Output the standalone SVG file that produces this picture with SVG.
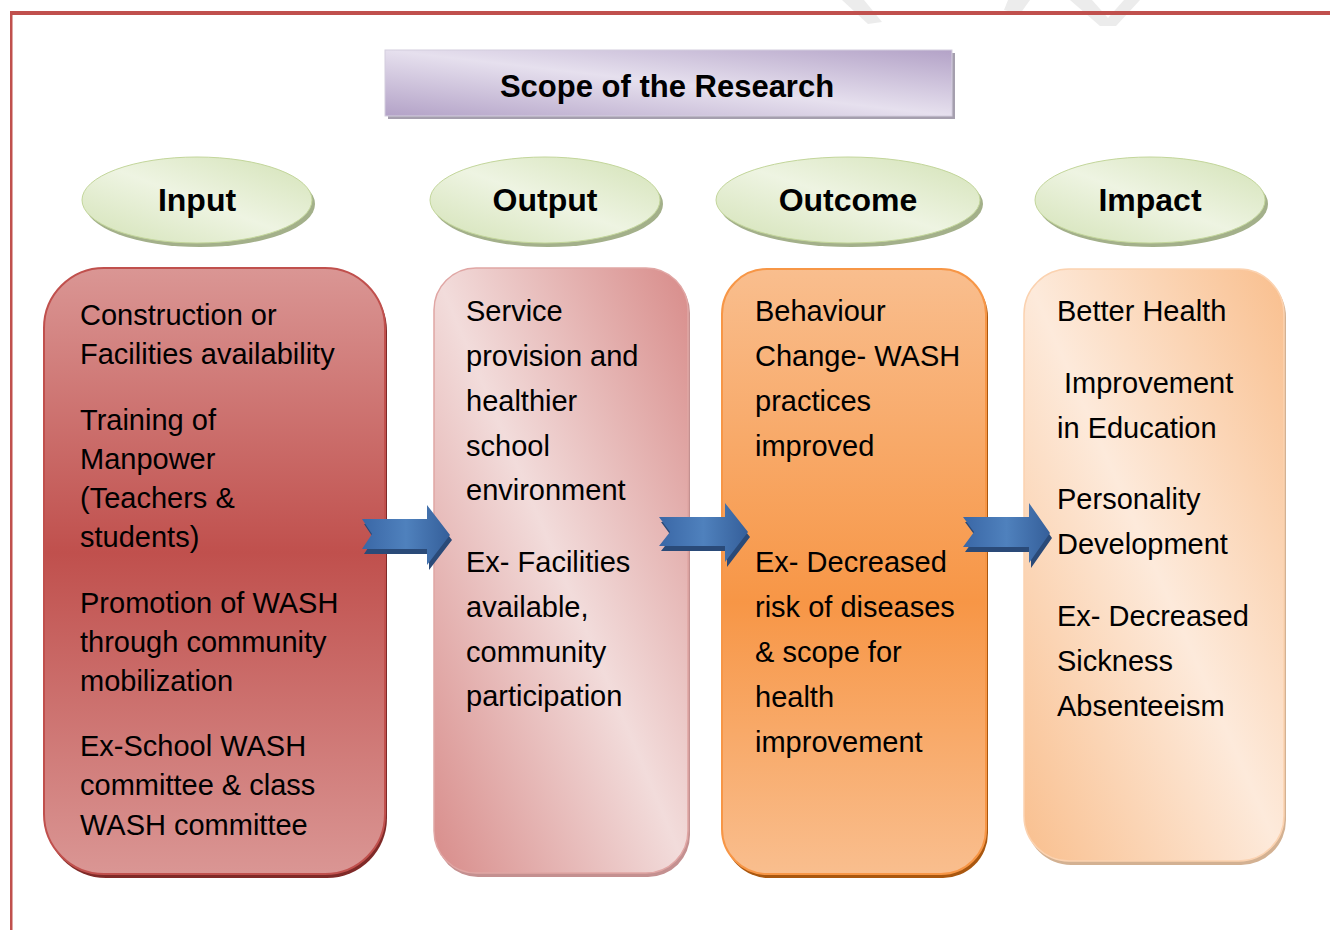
<svg xmlns="http://www.w3.org/2000/svg" width="1330" height="930" viewBox="0 0 1330 930">
  <defs>
    <linearGradient id="gTitle" x1="1" y1="0" x2="0" y2="1">
      <stop offset="0" stop-color="#b3a2c7"/>
      <stop offset="0.5" stop-color="#e6e0ee"/>
      <stop offset="1" stop-color="#b3a2c7"/>
    </linearGradient>
    <linearGradient id="gEll" x1="1" y1="0" x2="0" y2="1">
      <stop offset="0" stop-color="#d3e2b6"/>
      <stop offset="0.5" stop-color="#eef4e2"/>
      <stop offset="1" stop-color="#d3e2b6"/>
    </linearGradient>
    <linearGradient id="gInput" x1="0" y1="0" x2="0" y2="1">
      <stop offset="0" stop-color="#da9694"/>
      <stop offset="0.47" stop-color="#c0504d"/>
      <stop offset="1" stop-color="#da9694"/>
    </linearGradient>
    <linearGradient id="gOutput" x1="1" y1="0" x2="0" y2="1">
      <stop offset="0" stop-color="#d88c8a"/>
      <stop offset="0.5" stop-color="#f2dcdb"/>
      <stop offset="1" stop-color="#d88c8a"/>
    </linearGradient>
    <linearGradient id="gOutcome" x1="0" y1="0" x2="0" y2="1">
      <stop offset="0" stop-color="#f9be8e"/>
      <stop offset="0.55" stop-color="#f79646"/>
      <stop offset="1" stop-color="#f9be8e"/>
    </linearGradient>
    <linearGradient id="gImpact" x1="1" y1="0" x2="0" y2="1">
      <stop offset="0" stop-color="#f9bf8e"/>
      <stop offset="0.5" stop-color="#fdeadb"/>
      <stop offset="1" stop-color="#f9bf8e"/>
    </linearGradient>
    <linearGradient id="gArrow" x1="0" y1="0" x2="1" y2="0">
      <stop offset="0" stop-color="#3a67a6"/>
      <stop offset="0.5" stop-color="#4f81bd"/>
      <stop offset="1" stop-color="#355f9a"/>
    </linearGradient>
    <style>
      .body { font-family: "Liberation Sans", Arial, sans-serif; font-size: 29px; fill: #000; }
      .head { font-family: "Liberation Sans", Arial, sans-serif; font-size: 32px; font-weight: bold; fill: #000; text-anchor: middle; }
      .ell { fill: url(#gEll); stroke: #c3d69b; stroke-width: 1; }
      .ellsh { fill: #a3b08a; }
      .arrow { fill: url(#gArrow); }
      .arrowsh { fill: #2a4a78; }
    </style>
  </defs>

  <rect width="1330" height="930" fill="#ffffff"/>

  <!-- faint watermark fragments -->
  <g id="watermark" fill="#ececec">
    <polygon points="842,0 864,0 882,22 868,24"/>
    <polygon points="1008,0 1030,0 1020,14 1004,10"/>
    <polygon points="1070,0 1092,0 1108,18 1124,0 1140,0 1116,26 1100,26"/>
  </g>

  <!-- page border -->
  <g id="page-border">
    <rect x="10" y="11" width="1320" height="4" fill="#c0504d"/>
    <rect x="10" y="11" width="2.5" height="919" fill="#c0504d"/>
  </g>

  <!-- title -->
  <g id="title">
    <rect x="388" y="53" width="567" height="66" fill="#a59fae"/>
    <rect x="385" y="50" width="567" height="66" fill="url(#gTitle)" stroke="#d4cede" stroke-width="1"/>
    <text class="head" x="667" y="97" style="font-size:31px">Scope of the Research</text>
  </g>

  <!-- headers -->
  <g id="hdr-input">
    <ellipse class="ellsh" cx="200" cy="204" rx="115" ry="43"/>
    <ellipse class="ell" cx="197" cy="200" rx="115" ry="43"/>
    <text class="head" x="197" y="211">Input</text>
  </g>
  <g id="hdr-output">
    <ellipse class="ellsh" cx="548" cy="204" rx="115" ry="43"/>
    <ellipse class="ell" cx="545" cy="200" rx="115" ry="43"/>
    <text class="head" x="545" y="211">Output</text>
  </g>
  <g id="hdr-outcome">
    <ellipse class="ellsh" cx="851" cy="204" rx="132" ry="43"/>
    <ellipse class="ell" cx="848" cy="200" rx="132" ry="43"/>
    <text class="head" x="848" y="211">Outcome</text>
  </g>
  <g id="hdr-impact">
    <ellipse class="ellsh" cx="1153" cy="204" rx="115" ry="43"/>
    <ellipse class="ell" cx="1150" cy="200" rx="115" ry="43"/>
    <text class="head" x="1150" y="211">Impact</text>
  </g>

  <!-- Input box -->
  <g id="box-input">
    <rect x="46" y="271" width="341" height="607" rx="60" ry="60" fill="#7f2a28"/>
    <rect x="44" y="268" width="341" height="606" rx="60" ry="60" fill="url(#gInput)" stroke="#c0504d" stroke-width="2"/>
    <text class="body" x="80" y="325">Construction or</text>
    <text class="body" x="80" y="364">Facilities availability</text>
    <text class="body" x="80" y="430">Training of</text>
    <text class="body" x="80" y="469">Manpower</text>
    <text class="body" x="80" y="508">(Teachers &amp;</text>
    <text class="body" x="80" y="547">students)</text>
    <text class="body" x="80" y="613">Promotion of WASH</text>
    <text class="body" x="80" y="652">through community</text>
    <text class="body" x="80" y="691">mobilization</text>
    <text class="body" x="80" y="756">Ex-School WASH</text>
    <text class="body" x="80" y="795">committee &amp; class</text>
    <text class="body" x="80" y="835">WASH committee</text>
  </g>

  <!-- Output box -->
  <g id="box-output">
    <rect x="436" y="271" width="254" height="606" rx="42" ry="42" fill="#c49090"/>
    <rect x="434" y="268" width="254" height="605" rx="42" ry="42" fill="url(#gOutput)" stroke="#e0a6a4" stroke-width="1.5"/>
    <text class="body" x="466" y="321">Service</text>
    <text class="body" x="466" y="366">provision and</text>
    <text class="body" x="466" y="411">healthier</text>
    <text class="body" x="466" y="456">school</text>
    <text class="body" x="466" y="500">environment</text>
    <text class="body" x="466" y="572">Ex- Facilities</text>
    <text class="body" x="466" y="617">available,</text>
    <text class="body" x="466" y="662">community</text>
    <text class="body" x="466" y="706">participation</text>
  </g>

  <!-- Outcome box -->
  <g id="box-outcome">
    <rect x="724" y="272" width="264" height="606" rx="45" ry="45" fill="#a9570f"/>
    <rect x="722" y="269" width="264" height="605" rx="45" ry="45" fill="url(#gOutcome)" stroke="#f79646" stroke-width="2"/>
    <text class="body" x="755" y="321">Behaviour</text>
    <text class="body" x="755" y="366">Change- WASH</text>
    <text class="body" x="755" y="411">practices</text>
    <text class="body" x="755" y="456">improved</text>
    <text class="body" x="755" y="572">Ex- Decreased</text>
    <text class="body" x="755" y="617">risk of diseases</text>
    <text class="body" x="755" y="662">&amp; scope for</text>
    <text class="body" x="755" y="707">health</text>
    <text class="body" x="755" y="752">improvement</text>
  </g>

  <!-- Impact box -->
  <g id="box-impact">
    <rect x="1026" y="272" width="260" height="593" rx="45" ry="45" fill="#d3b192"/>
    <rect x="1024" y="269" width="260" height="592" rx="45" ry="45" fill="url(#gImpact)" stroke="#fbd2b0" stroke-width="1.5"/>
    <text class="body" x="1057" y="321">Better Health</text>
    <text class="body" x="1057" y="393"> <tspan x="1064">Improvement</tspan></text>
    <text class="body" x="1057" y="438">in Education</text>
    <text class="body" x="1057" y="509">Personality</text>
    <text class="body" x="1057" y="554">Development</text>
    <text class="body" x="1057" y="626">Ex- Decreased</text>
    <text class="body" x="1057" y="671">Sickness</text>
    <text class="body" x="1057" y="716">Absenteeism</text>
  </g>

  <!-- connectors -->
  <g id="connectors">
    <g id="arrow-1">
      <polygon class="arrowsh" points="364,524 429,524 429,510 452,540 429,570 429,554 364,554 374,539"/>
      <polygon class="arrow" points="362,519 427,519 427,505 450,535 427,565 427,549 362,549 372,534"/>
    </g>
    <g id="arrow-2">
      <polygon class="arrowsh" points="661,522 727,522 727,508 750,537 727,567 727,551 661,551 672,537"/>
      <polygon class="arrow" points="659,517 725,517 725,503 748,532 725,562 725,546 659,546 670,532"/>
    </g>
    <g id="arrow-3">
      <polygon class="arrowsh" points="965,522 1031,522 1031,508 1052,538 1031,568 1031,552 965,552 976,537"/>
      <polygon class="arrow" points="963,517 1029,517 1029,503 1050,533 1029,563 1029,547 963,547 974,532"/>
    </g>
  </g>
</svg>
